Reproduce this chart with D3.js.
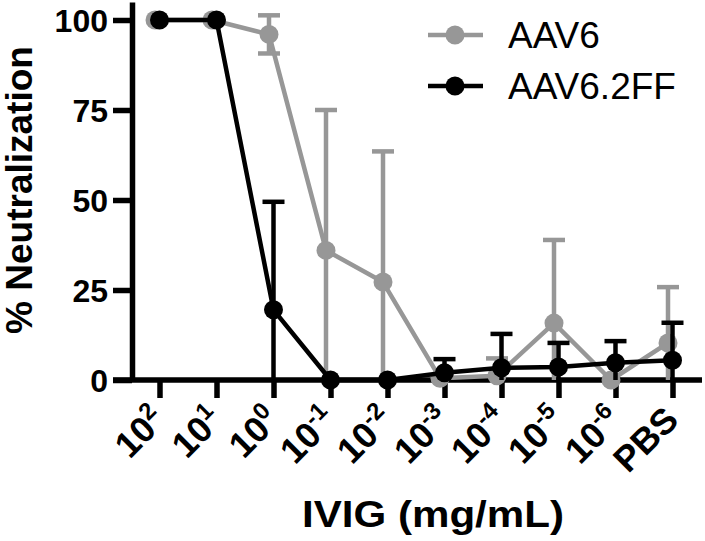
<!DOCTYPE html>
<html>
<head>
<meta charset="utf-8">
<script src="https://cdn.jsdelivr.net/npm/d3@7"></script>
<style>
  html, body { margin: 0; padding: 0; background: #fff; }
  svg { display: block; font-family: "Liberation Sans", Arial, Helvetica, sans-serif; }
</style>
</head>
<body>
<svg id="chart" width="705" height="541"></svg>
<script>
// ---- data ----
const categories = ["1e2", "1e1", "1e0", "1e-1", "1e-2", "1e-3", "1e-4", "1e-5", "1e-6", "PBS"];
const tickBase = ["10", "10", "10", "10", "10", "10", "10", "10", "10", "PBS"];
const tickExp = ["2", "1", "0", "-1", "-2", "-3", "-4", "-5", "-6", ""];
const aav6Mean = [100, 100, 96, 36, 27.2, 0.5, 1.2, 15.8, 0, 10.3];
const aav6SD = [0, 0, 5.3, 39, 36.3, 0, 4.8, 23.1, 0, 15.5];
const aav62ffMean = [100, 100, 19.5, 0, 0, 2, 3.4, 3.6, 4.8, 5.5];
const aav62ffSD = [0, 0, 30, 0, 0, 3.8, 9.4, 6.7, 6, 10.4];
const yTicks = [0, 25, 50, 75, 100];
const seriesNames = ["AAV6", "AAV6.2FF"];

// ---- setup ----
const svg = d3.select("#chart");
const GRAY = "#979797", BLACK = "#000";
const x = d3.scalePoint().domain(categories).range([131, 701]).padding(0.5);
const y = d3.scaleLinear().domain([0, 105]).range([380, 2]);

const series = [
  { name: seriesNames[0], mean: aav6Mean, sd: aav6SD, color: GRAY, dx: -4.5 },
  { name: seriesNames[1], mean: aav62ffMean, sd: aav62ffSD, color: BLACK, dx: 0 }
];

// ---- axes ----
const yAxis = svg.append("g").attr("transform", "translate(132,0)")
  .call(d3.axisLeft(y).tickValues(yTicks).tickSize(19).tickSizeOuter(0).tickPadding(5));
yAxis.select(".domain").attr("stroke", "#000").attr("stroke-width", 5.5);
yAxis.selectAll(".tick line").attr("stroke", "#000").attr("stroke-width", 5.5);
yAxis.selectAll(".tick text").style("font-size", "32px").style("font-weight", "bold")
  .attr("fill", "#000").style("font-family", "'Liberation Sans', Arial, sans-serif").attr("dy", "0.36em");

const xAxis = svg.append("g").attr("transform", "translate(0,380)")
  .call(d3.axisBottom(x).tickSize(18).tickSizeOuter(0).tickFormat(""));
xAxis.select(".domain").attr("stroke", "#000").attr("stroke-width", 5.5)
  .attr("d", `M${113},0H${702}`);
xAxis.selectAll(".tick line").attr("stroke", "#000").attr("stroke-width", 5.5);
xAxis.selectAll(".tick text").remove();

// rotated tick labels with superscript exponents
categories.forEach((c, i) => {
  const t = svg.append("text")
    .attr("transform", `translate(${x(c) + 8},${422}) rotate(-45)`)
    .attr("text-anchor", "end")
    .style("font-size", "36px").style("font-weight", "bold").attr("fill", "#000");
  t.append("tspan").text(tickBase[i]);
  if (tickExp[i]) t.append("tspan").style("font-size", "24px").attr("dy", -14).text(tickExp[i]);
});

// axis titles
svg.append("text").attr("x", 433).attr("y", 527).attr("text-anchor", "middle")
  .style("font-size", "36px").style("font-weight", "bold").attr("fill", "#000")
  .attr("textLength", 262).attr("lengthAdjust", "spacingAndGlyphs")
  .text("IVIG (mg/mL)");
svg.append("text").attr("transform", "translate(32,190) rotate(-90)").attr("text-anchor", "middle")
  .style("font-size", "37px").style("font-weight", "bold").attr("fill", "#000")
  .text("% Neutralization");

// ---- series ----
const line = d3.line();
series.forEach(s => {
  const g = svg.append("g");
  s.mean.forEach((m, i) => {
    const sd = s.sd[i];
    if (!sd) return;
    const cx = x(categories[i]) + s.dx;
    const hi = m + sd, lo = Math.max(0, m - sd);
    g.append("line").attr("x1", cx).attr("x2", cx).attr("y1", y(hi)).attr("y2", y(lo))
      .attr("stroke", s.color).attr("stroke-width", 4.5);
    g.append("line").attr("x1", cx - 11).attr("x2", cx + 11).attr("y1", y(hi)).attr("y2", y(hi))
      .attr("stroke", s.color).attr("stroke-width", 4.5);
    if (m - sd >= 0) {
      g.append("line").attr("x1", cx - 11).attr("x2", cx + 11).attr("y1", y(lo)).attr("y2", y(lo))
        .attr("stroke", s.color).attr("stroke-width", 4.5);
    }
  });
  g.append("path")
    .attr("d", line(s.mean.map((m, i) => [x(categories[i]) + s.dx, y(m)])))
    .attr("fill", "none").attr("stroke", s.color).attr("stroke-width", 4.5).attr("stroke-linejoin", "round");
  g.selectAll("circle").data(s.mean).join("circle")
    .attr("cx", (d, i) => x(categories[i]) + s.dx).attr("cy", d => y(d)).attr("r", 9.5)
    .attr("fill", s.color);
});

// ---- legend ----
series.forEach((s, i) => {
  const ly = 35 + i * 51;
  const g = svg.append("g");
  g.append("line").attr("x1", 428).attr("x2", 483).attr("y1", ly).attr("y2", ly)
    .attr("stroke", s.color).attr("stroke-width", 4.5);
  g.append("circle").attr("cx", 455).attr("cy", ly).attr("r", 9.5).attr("fill", s.color);
  g.append("text").attr("x", 508).attr("y", ly + 13).style("font-size", "37px").attr("fill", "#000")
    .text(s.name);
});
</script>
</body>
</html>
